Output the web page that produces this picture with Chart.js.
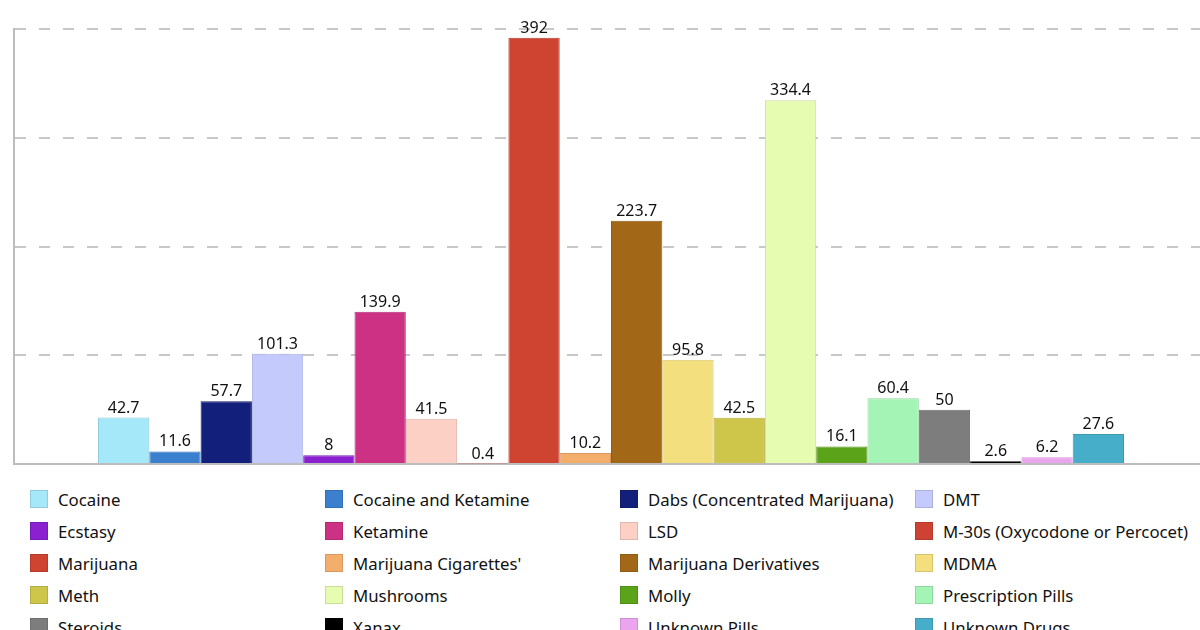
<!DOCTYPE html>
<html>
<head>
<meta charset="utf-8">
<script src="https://cdn.jsdelivr.net/npm/chart.js@4.4.1/dist/chart.umd.min.js"></script>
<style>
  html, body { margin: 0; padding: 0; background: #fff; overflow: hidden; width: 1200px; height: 630px; }
  #wrap { position: absolute; left: 0; top: 0; width: 1208px; height: 470px; }
  #legend {
    position: absolute; left: 30px; top: 483px;
    display: grid; grid-template-columns: repeat(4, 295px); grid-auto-rows: 32px;
    font-family: "Noto Sans", sans-serif; font-size: 16.8px; color: #111;
  }
  #legend .item { display: flex; align-items: center; white-space: nowrap; }
  #legend .box { width: 18px; height: 18px; box-sizing: border-box; border: 1px solid; margin-right: 10px; flex: none; }
</style>
</head>
<body>
<div id="wrap"><canvas id="barChart" width="1208" height="470"></canvas></div>
<div id="legend"></div>
<script>
// valores por sustancia, en el mismo orden que la leyenda
const drugNames = [
  'Cocaine', 'Cocaine and Ketamine', 'Dabs (Concentrated Marijuana)', 'DMT',
  'Ecstasy', 'Ketamine', 'LSD', 'M-30s (Oxycodone or Percocet)',
  'Marijuana', "Marijuana Cigarettes'", 'Marijuana Derivatives', 'MDMA',
  'Meth', 'Mushrooms', 'Molly', 'Prescription Pills',
  'Steroids', 'Xanax', 'Unknown Pills', 'Unknown Drugs',
];
const drugValues = [
  42.7, 11.6, 57.7, 101.3,
  8, 139.9, 41.5, 0.4,
  392, 10.2, 223.7, 95.8,
  42.5, 334.4, 16.1, 60.4,
  50, 2.6, 6.2, 27.6,
];
const drugColors = [
  '#a4e8fa', '#3b7fcf', '#13207b', '#c4cafc',
  '#8a20d0', '#cc3183', '#fdd0c6', '#cd4232',
  '#cf4331', '#f4ae6c', '#a26817', '#f3df7d',
  '#cdc64b', '#e6fcb1', '#5ba319', '#a3f4b5',
  '#7d7d7d', '#000000', '#eba5ef', '#46aec8',
];
const yTicks = [0, 100, 200, 300, 400];

const FONT = '"Noto Sans", sans-serif';

// oscurece un color hex para el borde
const darken = (hex, f = 0.88) => {
  const n = parseInt(hex.slice(1), 16);
  const r = Math.round(((n >> 16) & 255) * f);
  const g = Math.round(((n >> 8) & 255) * f);
  const b = Math.round((n & 255) * f);
  return `rgb(${r}, ${g}, ${b})`;
};

// etiquetas de valor encima de cada barra
const valueLabels = {
  id: 'valueLabels',
  afterDatasetsDraw(chart) {
    const { ctx } = chart;
    ctx.save();
    ctx.font = `16px ${FONT}`;
    ctx.fillStyle = '#111';
    ctx.textAlign = 'center';
    ctx.textBaseline = 'alphabetic';
    chart.data.datasets.forEach((ds, i) => {
      const bar = chart.getDatasetMeta(i).data[0];
      if (!bar) return;
      ctx.fillText(String(ds.data[0]), bar.x, bar.y - 5);
    });
    ctx.restore();
  },
};

document.addEventListener('DOMContentLoaded', () => {
  const ctx = document.getElementById('barChart').getContext('2d');

  new Chart(ctx, {
    type: 'bar',
    data: {
      labels: [''],
      datasets: drugNames.map((name, i) => ({
        label: name,
        data: [drugValues[i]],
        backgroundColor: drugColors[i],
        borderColor: darken(drugColors[i]),
        borderWidth: 1,
        barPercentage: 1,
        categoryPercentage: 0.8593,
      })),
    },
    options: {
      responsive: false,
      animation: false,
      devicePixelRatio: 1,
      layout: { padding: { left: 14, top: 29, right: 0, bottom: 6 } },
      plugins: {
        legend: { display: false },
        tooltip: { enabled: false },
      },
      scales: {
        x: {
          grid: { display: false },
          ticks: { display: false },
          border: { display: true, color: '#bdbdbd', width: 2 },
          afterFit: (s) => { s.height = 0; },
        },
        y: {
          min: yTicks[0],
          max: yTicks[yTicks.length - 1],
          afterBuildTicks: (s) => { s.ticks = yTicks.map((v) => ({ value: v })); },
          ticks: { display: false },
          grid: { color: '#c8c8c8', lineWidth: 2, drawTicks: false },
          border: { display: true, color: '#bdbdbd', width: 2, dash: [11, 13] },
          afterFit: (s) => { s.width = 0; },
        },
      },
    },
    plugins: [valueLabels],
  });

  // leyenda en 4 columnas
  const legend = document.getElementById('legend');
  drugNames.forEach((name, i) => {
    const item = document.createElement('div');
    item.className = 'item';
    const box = document.createElement('span');
    box.className = 'box';
    box.style.background = drugColors[i];
    box.style.borderColor = darken(drugColors[i]);
    const txt = document.createElement('span');
    txt.textContent = name;
    item.appendChild(box);
    item.appendChild(txt);
    legend.appendChild(item);
  });
});
</script>
</body>
</html>
